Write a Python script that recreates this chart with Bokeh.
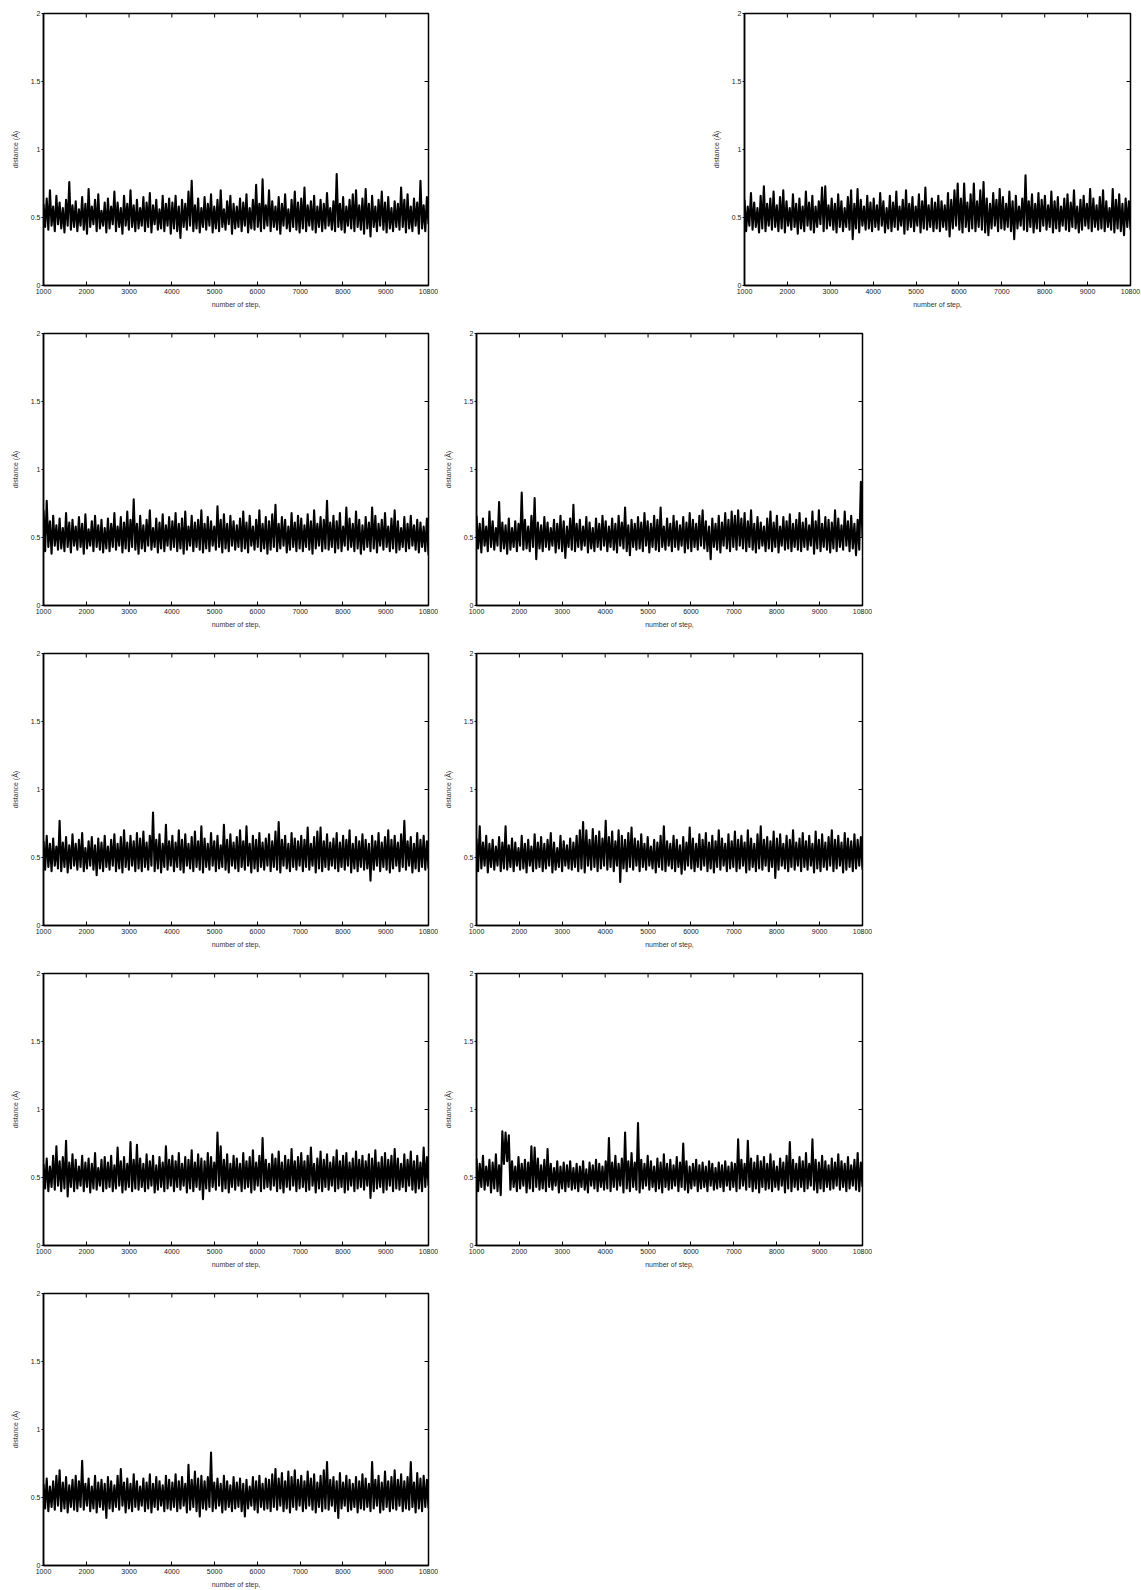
import numpy as np
from bokeh.plotting import figure
from bokeh.layouts import column, row
from bokeh.models import Range1d, FixedTicker, Spacer
from bokeh.embed import file_html
from bokeh.resources import INLINE

# ---------------- data (distance in Å) ----------------
x_ticks = [1000, 2000, 3000, 4000, 5000, 6000, 7000, 8000, 9000, 10000]
x_tick_labels = {10000: "10800"}
y_ticks = [0, 0.5, 1, 1.5, 2]
y_tick_labels = {0: "0", 0.5: "0.5", 1: "1", 1.5: "1.5", 2: "2"}
x_label = "number of step,"
y_label = "distance (Å)"
step_start, step_end = 1000, 10000

dist_r1_left = [
 .60,.43,.64,.41,.70,.44,.58,.40,.66,.45,.61,.42,.57,.39,.63,.44,.76,.41,.59,.43,
 .62,.40,.56,.44,.65,.41,.60,.38,.71,.43,.58,.45,.63,.40,.67,.42,.55,.44,.61,.39,
 .64,.42,.58,.45,.69,.40,.61,.43,.57,.38,.66,.44,.60,.41,.70,.43,.59,.40,.63,.42,
 .57,.44,.65,.40,.61,.43,.68,.39,.59,.45,.63,.41,.56,.42,.66,.40,.60,.44,.64,.38,
 .61,.42,.66,.40,.58,.35,.63,.43,.60,.41,.69,.44,.77,.40,.59,.42,.64,.39,.57,.43,
 .65,.41,.60,.44,.67,.39,.58,.42,.63,.40,.70,.43,.56,.41,.62,.45,.66,.38,.60,.42,
 .58,.43,.64,.40,.61,.44,.67,.39,.57,.42,.63,.41,.74,.43,.60,.40,.78,.42,.59,.44,
 .70,.40,.62,.43,.58,.41,.65,.38,.60,.44,.67,.42,.56,.40,.63,.43,.69,.41,.61,.39,
 .64,.42,.72,.40,.59,.44,.62,.41,.66,.39,.58,.43,.63,.40,.60,.42,.68,.44,.57,.41,
 .62,.40,.82,.43,.60,.41,.65,.39,.58,.44,.63,.42,.67,.40,.70,.43,.59,.41,.64,.38,
 .71,.42,.60,.36,.66,.43,.58,.40,.63,.44,.69,.41,.61,.39,.65,.42,.57,.40,.62,.43,
 .60,.41,.72,.43,.63,.39,.67,.42,.58,.40,.64,.44,.61,.38,.77,.42,.59,.40,.65,.45]

dist_r1_right = [
 .63,.40,.58,.44,.68,.41,.61,.43,.57,.39,.66,.42,.73,.40,.60,.44,.64,.41,.69,.43,
 .59,.40,.65,.42,.70,.39,.62,.44,.57,.41,.67,.43,.60,.38,.64,.42,.58,.40,.69,.44,
 .61,.41,.66,.39,.58,.43,.62,.45,.72,.40,.73,.42,.59,.44,.64,.41,.60,.39,.67,.43,
 .62,.40,.57,.43,.65,.41,.70,.34,.60,.42,.71,.39,.63,.44,.58,.41,.66,.42,.61,.40,
 .64,.43,.59,.41,.68,.44,.62,.39,.57,.42,.66,.40,.61,.43,.69,.41,.58,.44,.63,.38,
 .70,.41,.60,.43,.65,.40,.58,.44,.67,.39,.62,.42,.72,.41,.59,.43,.64,.40,.61,.42,
 .66,.40,.62,.43,.59,.41,.68,.36,.63,.42,.70,.44,.75,.41,.64,.39,.75,.43,.61,.40,
 .67,.42,.75,.40,.62,.43,.70,.41,.76,.39,.64,.37,.60,.42,.68,.44,.63,.40,.71,.42,
 .65,.41,.60,.43,.69,.40,.62,.34,.66,.42,.58,.44,.64,.41,.81,.40,.62,.43,.67,.39,
 .60,.42,.68,.40,.63,.44,.66,.41,.59,.43,.69,.39,.62,.42,.65,.40,.58,.44,.64,.41,
 .67,.40,.61,.43,.70,.42,.58,.39,.63,.41,.66,.44,.60,.42,.71,.40,.64,.43,.59,.41,
 .65,.42,.70,.40,.62,.43,.57,.41,.71,.39,.63,.42,.67,.40,.60,.37,.64,.43,.62,.41]

dist_r2_left = [
 .70,.40,.77,.43,.62,.38,.66,.44,.59,.41,.64,.42,.57,.40,.68,.43,.61,.39,.63,.44,
 .58,.41,.65,.43,.60,.38,.67,.42,.56,.44,.62,.40,.66,.43,.59,.41,.63,.39,.57,.42,
 .64,.40,.60,.43,.68,.41,.58,.44,.65,.39,.61,.42,.69,.40,.63,.43,.78,.41,.60,.38,
 .66,.42,.59,.40,.63,.44,.70,.41,.57,.43,.64,.39,.61,.42,.67,.40,.59,.44,.65,.41,
 .62,.43,.68,.40,.60,.42,.64,.38,.69,.41,.58,.44,.66,.40,.61,.43,.63,.41,.70,.39,
 .60,.42,.65,.40,.62,.44,.58,.41,.73,.43,.63,.39,.67,.42,.60,.40,.66,.44,.62,.41,
 .59,.43,.64,.40,.69,.42,.61,.39,.66,.44,.58,.41,.63,.43,.70,.40,.60,.42,.65,.38,
 .62,.41,.67,.43,.74,.40,.60,.42,.65,.44,.63,.39,.58,.41,.68,.43,.61,.40,.66,.42,
 .64,.40,.59,.43,.67,.41,.62,.38,.70,.42,.60,.44,.65,.40,.63,.42,.77,.41,.61,.43,
 .66,.39,.62,.42,.68,.40,.58,.44,.72,.41,.64,.43,.60,.40,.69,.42,.63,.38,.59,.41,
 .65,.43,.61,.40,.72,.42,.66,.39,.60,.44,.63,.41,.68,.43,.58,.40,.64,.42,.70,.39,
 .62,.41,.57,.43,.65,.40,.60,.42,.66,.44,.59,.41,.63,.39,.61,.43,.58,.40,.64,.37]

dist_r2_mid = [
 .66,.42,.60,.39,.64,.44,.58,.40,.69,.43,.62,.41,.57,.44,.76,.40,.61,.42,.59,.38,
 .64,.41,.57,.43,.62,.40,.60,.44,.83,.41,.63,.42,.58,.40,.66,.43,.79,.34,.61,.42,
 .59,.40,.65,.43,.61,.41,.57,.44,.63,.39,.60,.42,.66,.40,.62,.35,.58,.43,.64,.41,
 .74,.40,.60,.43,.63,.41,.58,.44,.65,.39,.61,.42,.57,.40,.64,.43,.60,.41,.66,.44,
 .62,.40,.58,.43,.64,.41,.60,.39,.66,.44,.61,.42,.72,.40,.59,.37,.63,.43,.60,.41,
 .65,.42,.61,.40,.68,.44,.62,.39,.60,.43,.66,.41,.63,.40,.72,.43,.58,.41,.64,.44,
 .60,.40,.66,.43,.62,.41,.59,.44,.65,.39,.61,.42,.68,.40,.63,.43,.60,.41,.66,.44,
 .70,.42,.62,.40,.58,.34,.64,.43,.60,.41,.66,.39,.61,.44,.68,.42,.63,.40,.69,.43,
 .66,.41,.70,.44,.64,.42,.68,.40,.62,.43,.70,.41,.60,.39,.65,.42,.61,.44,.58,.40,
 .64,.42,.69,.40,.61,.43,.66,.39,.58,.44,.65,.41,.62,.42,.67,.40,.60,.43,.63,.41,
 .68,.40,.61,.43,.64,.41,.59,.44,.69,.38,.62,.42,.70,.40,.60,.43,.65,.41,.63,.39,
 .61,.42,.70,.40,.64,.43,.59,.41,.69,.44,.62,.40,.66,.42,.60,.37,.63,.41,.91,.50]

dist_r3_left = [
 .62,.41,.66,.43,.60,.40,.64,.44,.58,.42,.77,.40,.61,.43,.65,.39,.59,.42,.67,.44,
 .60,.41,.63,.43,.68,.40,.57,.42,.62,.44,.65,.41,.59,.37,.64,.42,.61,.40,.66,.43,
 .58,.41,.63,.44,.67,.40,.60,.42,.65,.39,.70,.43,.61,.41,.66,.44,.62,.40,.68,.42,
 .64,.40,.69,.43,.61,.41,.66,.44,.83,.40,.63,.42,.67,.39,.60,.43,.74,.41,.62,.44,
 .66,.40,.61,.43,.70,.41,.63,.39,.67,.44,.60,.42,.65,.40,.69,.43,.62,.41,.73,.39,
 .64,.43,.60,.41,.68,.44,.62,.40,.66,.42,.59,.43,.74,.41,.63,.39,.67,.44,.61,.42,
 .65,.40,.70,.43,.62,.41,.73,.44,.60,.39,.66,.42,.63,.40,.68,.43,.61,.41,.64,.44,
 .67,.40,.62,.43,.69,.41,.76,.39,.63,.44,.66,.42,.60,.40,.68,.43,.64,.41,.62,.44,
 .66,.40,.63,.43,.72,.41,.60,.44,.65,.39,.69,.42,.72,.40,.62,.43,.67,.41,.61,.44,
 .64,.42,.68,.40,.61,.43,.66,.41,.63,.44,.70,.39,.60,.42,.65,.40,.62,.43,.67,.41,
 .63,.42,.60,.33,.66,.41,.62,.44,.68,.40,.61,.43,.65,.41,.70,.39,.63,.42,.66,.44,
 .61,.40,.67,.43,.77,.41,.62,.44,.65,.39,.60,.42,.68,.40,.63,.43,.66,.41,.62,.42]

dist_r3_mid = [
 .64,.40,.73,.42,.61,.44,.66,.39,.60,.43,.63,.41,.58,.44,.65,.40,.61,.42,.73,.41,
 .59,.43,.64,.40,.61,.44,.57,.41,.66,.42,.60,.39,.63,.44,.58,.40,.67,.42,.61,.43,
 .65,.40,.60,.42,.63,.44,.68,.39,.61,.41,.57,.43,.66,.40,.62,.44,.59,.42,.64,.41,
 .61,.43,.66,.40,.70,.42,.76,.39,.70,.44,.63,.41,.71,.43,.66,.40,.69,.42,.64,.44,
 .77,.41,.65,.43,.69,.40,.62,.44,.70,.32,.66,.42,.63,.40,.68,.43,.72,.41,.64,.44,
 .62,.40,.67,.43,.60,.41,.65,.44,.58,.42,.63,.39,.61,.43,.66,.41,.73,.40,.62,.44,
 .60,.42,.66,.40,.63,.43,.59,.38,.65,.41,.61,.44,.72,.42,.64,.40,.60,.43,.67,.41,
 .63,.44,.68,.40,.61,.42,.66,.39,.62,.43,.70,.41,.64,.44,.60,.40,.67,.42,.62,.43,
 .69,.40,.63,.42,.66,.44,.61,.39,.70,.41,.64,.43,.60,.40,.67,.42,.73,.41,.63,.44,
 .65,.40,.62,.43,.69,.35,.64,.41,.67,.44,.60,.42,.66,.40,.63,.43,.70,.41,.61,.44,
 .64,.40,.68,.43,.62,.41,.66,.44,.60,.39,.69,.42,.63,.40,.67,.43,.61,.41,.65,.44,
 .70,.40,.63,.42,.66,.44,.61,.39,.68,.41,.64,.43,.62,.40,.67,.42,.63,.44,.65,.41]

dist_r4_left = [
 .60,.42,.64,.40,.58,.43,.66,.41,.73,.44,.62,.40,.65,.42,.77,.36,.61,.43,.67,.40,
 .63,.42,.58,.44,.66,.40,.61,.43,.64,.39,.60,.42,.68,.41,.57,.44,.63,.40,.65,.42,
 .61,.43,.66,.40,.59,.42,.72,.44,.62,.39,.65,.41,.60,.43,.76,.40,.63,.42,.74,.41,
 .64,.43,.60,.40,.67,.42,.62,.44,.66,.39,.59,.41,.65,.43,.61,.40,.73,.42,.63,.44,
 .66,.40,.62,.43,.68,.41,.60,.44,.65,.39,.63,.42,.70,.40,.61,.43,.67,.41,.64,.34,
 .62,.42,.68,.40,.65,.43,.61,.41,.83,.44,.73,.40,.63,.42,.67,.39,.60,.43,.66,.41,
 .64,.44,.60,.40,.68,.42,.62,.43,.65,.39,.70,.41,.61,.44,.66,.40,.79,.42,.63,.43,
 .60,.41,.67,.44,.64,.40,.69,.42,.61,.39,.66,.43,.63,.41,.71,.44,.62,.40,.65,.42,
 .68,.43,.62,.40,.66,.41,.72,.44,.60,.39,.64,.42,.69,.40,.63,.43,.67,.41,.61,.44,
 .65,.40,.70,.42,.62,.43,.66,.39,.68,.41,.61,.44,.64,.40,.69,.42,.63,.43,.66,.41,
 .62,.44,.67,.35,.64,.40,.70,.42,.61,.43,.65,.39,.68,.41,.63,.44,.66,.40,.71,.42,
 .64,.41,.60,.43,.67,.40,.63,.44,.69,.41,.62,.39,.66,.42,.61,.40,.72,.43,.65,.44]

dist_r4_mid = [
 .64,.40,.60,.43,.66,.41,.58,.44,.63,.39,.61,.42,.67,.40,.59,.37,.84,.60,.83,.62,
 .81,.41,.62,.43,.58,.40,.65,.42,.60,.44,.63,.39,.61,.42,.73,.40,.72,.43,.64,.41,
 .59,.42,.63,.40,.71,.43,.60,.41,.57,.44,.62,.39,.58,.42,.61,.40,.59,.43,.62,.41,
 .57,.42,.60,.40,.58,.43,.62,.41,.56,.39,.61,.44,.59,.42,.63,.40,.60,.43,.58,.41,
 .62,.42,.79,.40,.61,.43,.66,.41,.60,.44,.64,.39,.83,.42,.62,.40,.68,.43,.61,.41,
 .90,.39,.63,.42,.60,.44,.66,.41,.62,.43,.58,.40,.64,.42,.61,.39,.67,.43,.60,.41,
 .63,.42,.59,.44,.65,.40,.61,.43,.75,.41,.62,.39,.58,.42,.60,.44,.63,.40,.59,.42,
 .61,.43,.58,.40,.62,.44,.60,.41,.57,.42,.61,.43,.59,.40,.62,.44,.58,.41,.61,.43,
 .60,.40,.78,.42,.63,.44,.60,.41,.77,.43,.64,.40,.61,.42,.66,.39,.62,.43,.65,.41,
 .60,.42,.67,.40,.62,.43,.58,.41,.64,.44,.61,.39,.66,.42,.76,.40,.63,.43,.60,.41,
 .65,.43,.62,.40,.68,.42,.60,.44,.78,.41,.63,.39,.61,.42,.66,.40,.62,.43,.59,.41,
 .64,.42,.61,.44,.67,.41,.62,.43,.60,.40,.65,.42,.59,.44,.63,.41,.68,.40,.61,.43]

dist_r5_left = [
 .60,.42,.64,.40,.58,.43,.62,.41,.66,.44,.70,.40,.61,.42,.65,.39,.59,.43,.63,.41,
 .66,.40,.62,.43,.77,.41,.60,.44,.64,.40,.58,.42,.66,.39,.61,.43,.63,.41,.60,.35,
 .65,.42,.62,.40,.59,.43,.66,.41,.71,.44,.61,.39,.64,.42,.60,.40,.67,.43,.62,.41,
 .58,.44,.64,.40,.61,.42,.67,.39,.60,.43,.65,.41,.62,.44,.59,.40,.66,.42,.63,.41,
 .61,.43,.67,.40,.62,.42,.65,.44,.60,.39,.74,.41,.63,.43,.69,.40,.64,.36,.66,.42,
 .62,.41,.65,.43,.83,.40,.61,.42,.64,.44,.60,.39,.66,.41,.62,.43,.59,.40,.65,.42,
 .61,.43,.64,.40,.60,.36,.63,.42,.58,.44,.65,.41,.62,.39,.66,.43,.60,.41,.64,.42,
 .63,.40,.67,.43,.71,.41,.64,.44,.68,.40,.62,.42,.69,.39,.65,.43,.70,.41,.63,.44,
 .66,.40,.62,.42,.69,.44,.64,.41,.67,.39,.61,.43,.66,.40,.70,.42,.76,.41,.63,.44,
 .65,.40,.62,.35,.68,.42,.61,.44,.66,.40,.63,.41,.60,.43,.65,.39,.62,.42,.67,.41,
 .64,.43,.60,.40,.76,.42,.63,.44,.66,.39,.61,.41,.69,.43,.62,.40,.65,.42,.70,.41,
 .63,.44,.67,.40,.62,.42,.65,.41,.76,.43,.61,.39,.68,.42,.64,.40,.66,.43,.63,.42]

# ---------------- layout constants ----------------
ROW_H = 320
FRAME_H = 272
TOP = 13
LEFT_W = 438          # width of a left-column figure
FONT = "Liberation Sans"
TICK_COLOR = "#222222"
LABEL_COLOR = "#333333"


def make_panel(vals, border_left, frame_w, border_right, border_bottom):
    p = figure(frame_width=frame_w, frame_height=FRAME_H,
               min_border_left=border_left, min_border_right=border_right,
               min_border_top=TOP, min_border_bottom=border_bottom,
               x_range=Range1d(step_start, step_end), y_range=Range1d(0, 2),
               output_backend="svg", toolbar_location=None,
               background_fill_color="white", border_fill_color="white")
    p.grid.visible = False
    p.outline_line_color = "black"
    p.outline_line_width = 1.5

    steps = np.linspace(step_start, step_end, len(vals))
    p.line(steps, vals, line_color="black", line_width=2.1, line_join="round")

    # inward tick marks on the top and right borders (mirrors of the axes)
    p.ray(x=x_ticks, y=[p.y_range.end] * len(x_ticks), length=4, length_units="screen",
          angle=-np.pi / 2, line_color="black", line_width=1)
    p.ray(x=[p.x_range.end] * len(y_ticks), y=y_ticks, length=4, length_units="screen",
          angle=np.pi, line_color="black", line_width=1)

    xa = p.xaxis[0]
    xa.ticker = FixedTicker(ticks=x_ticks)
    xa.major_label_overrides = x_tick_labels
    xa.major_tick_in = 4
    xa.major_tick_out = 0
    xa.minor_tick_line_color = None
    xa.axis_line_width = 1.5
    xa.major_label_standoff = 3
    xa.major_label_text_font = FONT
    xa.major_label_text_font_size = "7px"
    xa.major_label_text_color = TICK_COLOR
    xa.axis_label = x_label
    xa.axis_label_standoff = 4
    xa.axis_label_text_font = FONT
    xa.axis_label_text_font_size = "7px"
    xa.axis_label_text_font_style = "normal"
    xa.axis_label_text_color = LABEL_COLOR

    ya = p.yaxis[0]
    ya.ticker = FixedTicker(ticks=y_ticks)
    ya.major_label_overrides = y_tick_labels
    ya.major_tick_in = 0
    ya.major_tick_out = 2
    ya.minor_tick_line_color = None
    ya.axis_line_width = 1.5
    ya.major_label_standoff = 1
    ya.major_label_text_font = FONT
    ya.major_label_text_font_size = "7px"
    ya.major_label_text_color = TICK_COLOR
    ya.axis_label = y_label
    ya.axis_label_standoff = 9
    ya.axis_label_text_font = FONT
    ya.axis_label_text_font_size = "7px"
    ya.axis_label_text_font_style = "normal"
    ya.axis_label_text_color = LABEL_COLOR
    return p


def left_panel(vals, bottom=ROW_H - TOP - FRAME_H):
    return make_panel(vals, 43, 385, LEFT_W - 43 - 385, bottom)


def mid_panel(vals):
    return make_panel(vals, 476 - LEFT_W, 386, 10, ROW_H - TOP - FRAME_H)


p1 = left_panel(dist_r1_left)
p2 = make_panel(dist_r1_right, 44, 386, 11, ROW_H - TOP - FRAME_H)
row1 = row(p1, Spacer(width=700 - LEFT_W, height=ROW_H), p2, spacing=0)
row2 = row(left_panel(dist_r2_left), mid_panel(dist_r2_mid), spacing=0)
row3 = row(left_panel(dist_r3_left), mid_panel(dist_r3_mid), spacing=0)
row4 = row(left_panel(dist_r4_left), mid_panel(dist_r4_mid), spacing=0)
row5 = row(left_panel(dist_r5_left, bottom=25), spacing=0)

layout = column(row1, row2, row3, row4, row5, spacing=0)

with open("out.html", "w") as f:
    f.write(file_html(layout, INLINE))
